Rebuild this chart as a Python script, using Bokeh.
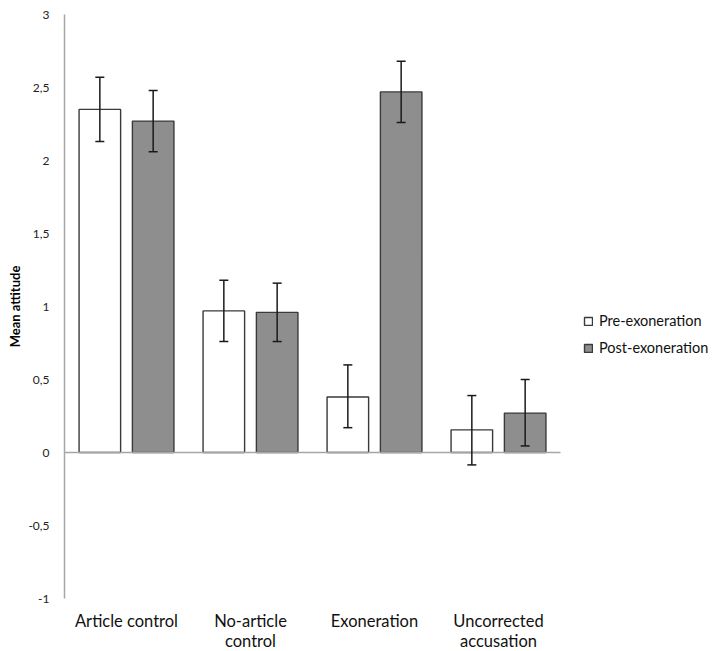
from bokeh.plotting import figure
from bokeh.models import (ColumnDataSource, Range1d, Whisker, TeeHead, Legend, LegendItem,
                          FixedTicker, LinearAxis)
from bokeh.embed import file_html
from bokeh.resources import INLINE

categories = ["Article control", "No-article control", "Exoneration", "Uncorrected accusation"]
label_line1 = ["Article control", "No-article", "Exoneration", "Uncorrected"]
label_line2 = ["", "control", "", "accusation"]
series_names = ["Pre-exoneration", "Post-exoneration"]
pre_mean = [2.35, 0.97, 0.38, 0.155]
pre_upper = [2.57, 1.18, 0.60, 0.39]
pre_lower = [2.13, 0.76, 0.17, -0.085]
post_mean = [2.27, 0.96, 2.47, 0.27]
post_upper = [2.48, 1.16, 2.68, 0.50]
post_lower = [2.06, 0.76, 2.26, 0.045]
y_ticks = [-1, -0.5, 0, 0.5, 1, 1.5, 2, 2.5, 3]

FONT = "Lato"
n = len(categories)
centers = [i + 0.5 for i in range(n)]
off = 0.215
bw = 0.335

pre_src = ColumnDataSource(dict(x=[c - off for c in centers], mean=pre_mean, up=pre_upper, lo=pre_lower))
post_src = ColumnDataSource(dict(x=[c + off for c in centers], mean=post_mean, up=post_upper, lo=post_lower))

# plot area extends to the right to host the legend (categories occupy 496 of 648 px)
FW = 648
p = figure(frame_width=FW, frame_height=584, output_backend="svg", toolbar_location=None,
           x_range=Range1d(0, n * FW / 496), y_range=Range1d(-1, 3),
           min_border_left=58, min_border_right=0, min_border_top=14, min_border_bottom=10,
           margin=(0, 0, 0, 4))
p.outline_line_color = None
p.grid.grid_line_color = None
p.background_fill_color = "white"
p.border_fill_color = "white"

r_pre = p.vbar(x="x", top="mean", bottom=0, width=bw, source=pre_src,
               fill_color="white", line_color="#3a3a3a", line_width=1.4)
r_post = p.vbar(x="x", top="mean", bottom=0, width=bw, source=post_src,
                fill_color="#8e8e8e", line_color="#3a3a3a", line_width=1.4)

# zero baseline across the category area
p.segment(x0=[0], x1=[n], y0=[0], y1=[0], line_color="#a6a6a6", line_width=1.5)

for src in (pre_src, post_src):
    w = Whisker(base="x", upper="up", lower="lo", source=src,
                line_color="#1a1a1a", line_width=1.5, level="overlay",
                upper_head=TeeHead(size=9, line_color="#1a1a1a", line_width=1.5),
                lower_head=TeeHead(size=9, line_color="#1a1a1a", line_width=1.5))
    p.add_layout(w)

# y axis
p.yaxis.ticker = FixedTicker(ticks=y_ticks)
p.yaxis.major_label_overrides = {t: (str(t).replace(".", ",") if t != int(t) else str(int(t))) for t in y_ticks}
p.yaxis.axis_line_color = "#a6a6a6"
p.yaxis.axis_line_width = 1.5
p.yaxis.major_tick_line_color = None
p.yaxis.minor_tick_line_color = None
p.yaxis.major_label_text_font = FONT
p.yaxis.major_label_text_font_size = "12px"
p.yaxis.major_label_text_color = "#222222"
p.yaxis.major_label_standoff = 9
p.yaxis.axis_label = "Mean attitude"
p.yaxis.axis_label_text_font = FONT
p.yaxis.axis_label_text_font_style = "bold"
p.yaxis.axis_label_text_font_size = "13px"
p.yaxis.axis_label_text_color = "#000000"
p.yaxis.axis_label_standoff = 2

# x axis: two stacked axes for the two text lines of the category names
def style_xaxis(ax, labels, standoff):
    ax.ticker = FixedTicker(ticks=centers)
    ax.major_label_overrides = dict(zip(centers, labels))
    ax.axis_line_color = None
    ax.major_tick_line_color = None
    ax.minor_tick_line_color = None
    ax.major_label_text_font = FONT
    ax.major_label_text_font_size = "16.5px"
    ax.major_label_text_color = "#111111"
    ax.major_label_standoff = standoff

style_xaxis(p.xaxis[0], label_line1, 6)
ax2 = LinearAxis()
style_xaxis(ax2, label_line2, -9)
p.add_layout(ax2, "below")

legend = Legend(items=[LegendItem(label=series_names[0], renderers=[r_pre]),
                       LegendItem(label=series_names[1], renderers=[r_post])],
                location=(519, 242), border_line_color=None, background_fill_alpha=0,
                glyph_width=10, glyph_height=10, label_text_font=FONT,
                label_text_font_size="14.5px", label_text_color="#111111",
                spacing=10, padding=0, margin=0, label_standoff=6)
p.add_layout(legend, "center")

open("out.html", "w").write(file_html(p, INLINE))
